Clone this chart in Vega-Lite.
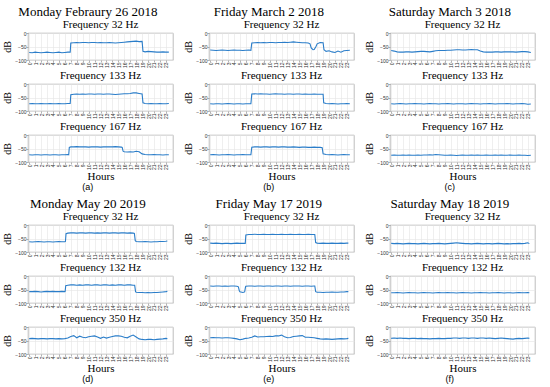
{
"$schema": "https://vega.github.io/schema/vega-lite/v6.json",
"background": "white",
"padding": {"left": 2, "top": 5, "right": 2, "bottom": 0},
"config": {
  "font": "Liberation Serif, Times New Roman, serif",
  "view": {"stroke": "#a0a0a0", "strokeWidth": 0.7},
  "axis": {"labelFont": "Liberation Sans, Arial, sans-serif", "labelFontSize": 5, "labelColor": "#333", "tickColor": "#666", "tickSize": 2, "tickWidth": 0.5, "domain": false, "gridColor": "#e4e4e4", "gridWidth": 0.6, "titleFont": "Liberation Serif, Times New Roman, serif", "titleFontWeight": "normal", "titleColor": "black", "labelPadding": 0},
  "axisY": {"titleFontSize": 10, "titlePadding": 2},
  "axisX": {"labelAngle": -90, "titleFontSize": 11, "titlePadding": 1},
  "title": {"font": "Liberation Serif, Times New Roman, serif", "fontWeight": "normal", "fontSize": 11, "offset": 1, "color": "black", "anchor": "middle"},
  "line": {"color": "#2a7dc9", "strokeWidth": 1.1}
},
"data": {"values": [
{"p":"a1","h":0,"v":-72},{"p":"a1","h":0.5,"v":-73},{"p":"a1","h":1,"v":-71},{"p":"a1","h":1.5,"v":-72},{"p":"a1","h":2,"v":-73},{"p":"a1","h":2.5,"v":-72},{"p":"a1","h":3,"v":-71},{"p":"a1","h":3.5,"v":-72},{"p":"a1","h":4,"v":-73},{"p":"a1","h":4.5,"v":-72},{"p":"a1","h":5,"v":-71},{"p":"a1","h":5.5,"v":-73},{"p":"a1","h":6,"v":-72},{"p":"a1","h":6.5,"v":-71},{"p":"a1","h":6.9,"v":-71},{"p":"a1","h":7,"v":-37},{"p":"a1","h":7.5,"v":-36},{"p":"a1","h":8,"v":-35},{"p":"a1","h":8.5,"v":-36},{"p":"a1","h":9,"v":-35},{"p":"a1","h":9.5,"v":-35},{"p":"a1","h":10,"v":-36},{"p":"a1","h":10.5,"v":-35},{"p":"a1","h":11,"v":-35},{"p":"a1","h":11.5,"v":-36},{"p":"a1","h":12,"v":-35},{"p":"a1","h":12.5,"v":-36},{"p":"a1","h":13,"v":-36},{"p":"a1","h":13.5,"v":-35},{"p":"a1","h":14,"v":-36},{"p":"a1","h":14.5,"v":-37},{"p":"a1","h":15,"v":-36},{"p":"a1","h":15.5,"v":-35},{"p":"a1","h":16,"v":-34},{"p":"a1","h":16.5,"v":-33},{"p":"a1","h":17,"v":-32},{"p":"a1","h":17.5,"v":-31},{"p":"a1","h":18,"v":-30},{"p":"a1","h":18.5,"v":-32},{"p":"a1","h":19,"v":-31},{"p":"a1","h":19.15,"v":-68},{"p":"a1","h":19.5,"v":-70},{"p":"a1","h":20,"v":-68},{"p":"a1","h":20.5,"v":-69},{"p":"a1","h":21,"v":-70},{"p":"a1","h":21.5,"v":-71},{"p":"a1","h":22,"v":-71},{"p":"a1","h":22.5,"v":-70},{"p":"a1","h":23,"v":-71},{"p":"a1","h":23.5,"v":-71},
{"p":"a2","h":0,"v":-73},{"p":"a2","h":0.5,"v":-72},{"p":"a2","h":1,"v":-73},{"p":"a2","h":1.5,"v":-73},{"p":"a2","h":2,"v":-72},{"p":"a2","h":2.5,"v":-73},{"p":"a2","h":3,"v":-73},{"p":"a2","h":3.5,"v":-72},{"p":"a2","h":4,"v":-73},{"p":"a2","h":4.5,"v":-73},{"p":"a2","h":5,"v":-72},{"p":"a2","h":5.5,"v":-73},{"p":"a2","h":6,"v":-73},{"p":"a2","h":6.5,"v":-72},{"p":"a2","h":6.9,"v":-72},{"p":"a2","h":7,"v":-40},{"p":"a2","h":7.5,"v":-38},{"p":"a2","h":8,"v":-37},{"p":"a2","h":8.5,"v":-38},{"p":"a2","h":9,"v":-37},{"p":"a2","h":9.5,"v":-38},{"p":"a2","h":10,"v":-37},{"p":"a2","h":10.5,"v":-37},{"p":"a2","h":11,"v":-38},{"p":"a2","h":11.5,"v":-37},{"p":"a2","h":12,"v":-37},{"p":"a2","h":12.5,"v":-38},{"p":"a2","h":13,"v":-37},{"p":"a2","h":13.5,"v":-37},{"p":"a2","h":14,"v":-38},{"p":"a2","h":14.5,"v":-39},{"p":"a2","h":15,"v":-38},{"p":"a2","h":15.5,"v":-37},{"p":"a2","h":16,"v":-36},{"p":"a2","h":16.5,"v":-36},{"p":"a2","h":17,"v":-35},{"p":"a2","h":17.5,"v":-33},{"p":"a2","h":18,"v":-33},{"p":"a2","h":18.5,"v":-35},{"p":"a2","h":19,"v":-37},{"p":"a2","h":19.15,"v":-70},{"p":"a2","h":19.5,"v":-72},{"p":"a2","h":20,"v":-73},{"p":"a2","h":20.5,"v":-72},{"p":"a2","h":21,"v":-73},{"p":"a2","h":21.5,"v":-73},{"p":"a2","h":22,"v":-72},{"p":"a2","h":22.5,"v":-73},{"p":"a2","h":23,"v":-73},{"p":"a2","h":23.5,"v":-72},
{"p":"a3","h":0,"v":-73},{"p":"a3","h":0.5,"v":-74},{"p":"a3","h":1,"v":-73},{"p":"a3","h":1.5,"v":-73},{"p":"a3","h":2,"v":-74},{"p":"a3","h":2.5,"v":-73},{"p":"a3","h":3,"v":-73},{"p":"a3","h":3.5,"v":-74},{"p":"a3","h":4,"v":-73},{"p":"a3","h":4.5,"v":-73},{"p":"a3","h":5,"v":-74},{"p":"a3","h":5.5,"v":-73},{"p":"a3","h":6,"v":-73},{"p":"a3","h":6.5,"v":-72},{"p":"a3","h":6.65,"v":-73},{"p":"a3","h":6.75,"v":-46},{"p":"a3","h":7,"v":-44},{"p":"a3","h":7.5,"v":-44},{"p":"a3","h":8,"v":-43},{"p":"a3","h":8.5,"v":-44},{"p":"a3","h":9,"v":-44},{"p":"a3","h":9.5,"v":-44},{"p":"a3","h":10,"v":-45},{"p":"a3","h":10.5,"v":-44},{"p":"a3","h":11,"v":-44},{"p":"a3","h":11.5,"v":-44},{"p":"a3","h":12,"v":-45},{"p":"a3","h":12.5,"v":-44},{"p":"a3","h":13,"v":-44},{"p":"a3","h":13.5,"v":-44},{"p":"a3","h":14,"v":-44},{"p":"a3","h":14.5,"v":-43},{"p":"a3","h":15,"v":-44},{"p":"a3","h":15.5,"v":-45},{"p":"a3","h":15.65,"v":-46},{"p":"a3","h":15.8,"v":-60},{"p":"a3","h":16,"v":-62},{"p":"a3","h":16.5,"v":-63},{"p":"a3","h":17,"v":-62},{"p":"a3","h":17.5,"v":-63},{"p":"a3","h":18,"v":-60},{"p":"a3","h":18.5,"v":-62},{"p":"a3","h":19,"v":-70},{"p":"a3","h":19.5,"v":-72},{"p":"a3","h":20,"v":-73},{"p":"a3","h":20.5,"v":-73},{"p":"a3","h":21,"v":-72},{"p":"a3","h":21.5,"v":-73},{"p":"a3","h":22,"v":-73},{"p":"a3","h":22.5,"v":-74},{"p":"a3","h":23,"v":-73},{"p":"a3","h":23.5,"v":-73},
{"p":"b1","h":0,"v":-63},{"p":"b1","h":0.5,"v":-64},{"p":"b1","h":1,"v":-65},{"p":"b1","h":1.5,"v":-64},{"p":"b1","h":2,"v":-63},{"p":"b1","h":2.5,"v":-64},{"p":"b1","h":3,"v":-65},{"p":"b1","h":3.5,"v":-64},{"p":"b1","h":4,"v":-63},{"p":"b1","h":4.5,"v":-64},{"p":"b1","h":5,"v":-64},{"p":"b1","h":5.5,"v":-65},{"p":"b1","h":6,"v":-64},{"p":"b1","h":6.5,"v":-63},{"p":"b1","h":6.85,"v":-64},{"p":"b1","h":7,"v":-37},{"p":"b1","h":7.5,"v":-36},{"p":"b1","h":8,"v":-35},{"p":"b1","h":8.5,"v":-36},{"p":"b1","h":9,"v":-35},{"p":"b1","h":9.5,"v":-36},{"p":"b1","h":10,"v":-35},{"p":"b1","h":10.5,"v":-35},{"p":"b1","h":11,"v":-36},{"p":"b1","h":11.5,"v":-35},{"p":"b1","h":12,"v":-35},{"p":"b1","h":12.5,"v":-34},{"p":"b1","h":13,"v":-35},{"p":"b1","h":13.5,"v":-34},{"p":"b1","h":14,"v":-33},{"p":"b1","h":14.5,"v":-34},{"p":"b1","h":15,"v":-35},{"p":"b1","h":15.5,"v":-36},{"p":"b1","h":16,"v":-36},{"p":"b1","h":16.5,"v":-37},{"p":"b1","h":16.8,"v":-40},{"p":"b1","h":17,"v":-55},{"p":"b1","h":17.3,"v":-62},{"p":"b1","h":17.5,"v":-61},{"p":"b1","h":17.8,"v":-50},{"p":"b1","h":18,"v":-40},{"p":"b1","h":18.5,"v":-35},{"p":"b1","h":19,"v":-36},{"p":"b1","h":19.15,"v":-62},{"p":"b1","h":19.5,"v":-68},{"p":"b1","h":20,"v":-66},{"p":"b1","h":20.5,"v":-70},{"p":"b1","h":21,"v":-72},{"p":"b1","h":21.5,"v":-67},{"p":"b1","h":22,"v":-71},{"p":"b1","h":22.5,"v":-66},{"p":"b1","h":23,"v":-65},{"p":"b1","h":23.5,"v":-64},
{"p":"b2","h":0,"v":-73},{"p":"b2","h":0.5,"v":-74},{"p":"b2","h":1,"v":-73},{"p":"b2","h":1.5,"v":-73},{"p":"b2","h":2,"v":-74},{"p":"b2","h":2.5,"v":-73},{"p":"b2","h":3,"v":-72},{"p":"b2","h":3.5,"v":-73},{"p":"b2","h":4,"v":-74},{"p":"b2","h":4.5,"v":-73},{"p":"b2","h":5,"v":-73},{"p":"b2","h":5.5,"v":-74},{"p":"b2","h":6,"v":-73},{"p":"b2","h":6.5,"v":-73},{"p":"b2","h":6.85,"v":-73},{"p":"b2","h":7,"v":-37},{"p":"b2","h":7.5,"v":-36},{"p":"b2","h":8,"v":-37},{"p":"b2","h":8.5,"v":-36},{"p":"b2","h":9,"v":-37},{"p":"b2","h":9.5,"v":-37},{"p":"b2","h":10,"v":-38},{"p":"b2","h":10.5,"v":-37},{"p":"b2","h":11,"v":-36},{"p":"b2","h":11.5,"v":-37},{"p":"b2","h":12,"v":-37},{"p":"b2","h":12.5,"v":-38},{"p":"b2","h":13,"v":-37},{"p":"b2","h":13.5,"v":-37},{"p":"b2","h":14,"v":-38},{"p":"b2","h":14.5,"v":-37},{"p":"b2","h":15,"v":-37},{"p":"b2","h":15.5,"v":-38},{"p":"b2","h":16,"v":-37},{"p":"b2","h":16.5,"v":-38},{"p":"b2","h":17,"v":-38},{"p":"b2","h":17.5,"v":-37},{"p":"b2","h":18,"v":-38},{"p":"b2","h":18.5,"v":-38},{"p":"b2","h":19,"v":-38},{"p":"b2","h":19.1,"v":-70},{"p":"b2","h":19.5,"v":-72},{"p":"b2","h":20,"v":-73},{"p":"b2","h":20.5,"v":-72},{"p":"b2","h":21,"v":-73},{"p":"b2","h":21.5,"v":-74},{"p":"b2","h":22,"v":-73},{"p":"b2","h":22.5,"v":-73},{"p":"b2","h":23,"v":-72},{"p":"b2","h":23.5,"v":-73},
{"p":"b3","h":0,"v":-73},{"p":"b3","h":0.5,"v":-72},{"p":"b3","h":1,"v":-73},{"p":"b3","h":1.5,"v":-74},{"p":"b3","h":2,"v":-73},{"p":"b3","h":2.5,"v":-73},{"p":"b3","h":3,"v":-72},{"p":"b3","h":3.5,"v":-73},{"p":"b3","h":4,"v":-74},{"p":"b3","h":4.5,"v":-73},{"p":"b3","h":5,"v":-73},{"p":"b3","h":5.5,"v":-72},{"p":"b3","h":6,"v":-73},{"p":"b3","h":6.5,"v":-73},{"p":"b3","h":6.85,"v":-73},{"p":"b3","h":7,"v":-45},{"p":"b3","h":7.5,"v":-44},{"p":"b3","h":8,"v":-44},{"p":"b3","h":8.5,"v":-45},{"p":"b3","h":9,"v":-44},{"p":"b3","h":9.5,"v":-44},{"p":"b3","h":10,"v":-45},{"p":"b3","h":10.5,"v":-44},{"p":"b3","h":11,"v":-44},{"p":"b3","h":11.5,"v":-45},{"p":"b3","h":12,"v":-44},{"p":"b3","h":12.5,"v":-44},{"p":"b3","h":13,"v":-45},{"p":"b3","h":13.5,"v":-45},{"p":"b3","h":14,"v":-44},{"p":"b3","h":14.5,"v":-45},{"p":"b3","h":15,"v":-46},{"p":"b3","h":15.5,"v":-45},{"p":"b3","h":16,"v":-45},{"p":"b3","h":16.5,"v":-46},{"p":"b3","h":17,"v":-46},{"p":"b3","h":17.5,"v":-45},{"p":"b3","h":18,"v":-46},{"p":"b3","h":18.5,"v":-46},{"p":"b3","h":18.85,"v":-47},{"p":"b3","h":19,"v":-70},{"p":"b3","h":19.5,"v":-72},{"p":"b3","h":20,"v":-73},{"p":"b3","h":20.5,"v":-72},{"p":"b3","h":21,"v":-73},{"p":"b3","h":21.5,"v":-74},{"p":"b3","h":22,"v":-73},{"p":"b3","h":22.5,"v":-72},{"p":"b3","h":23,"v":-73},{"p":"b3","h":23.5,"v":-73},
{"p":"c1","h":0,"v":-65},{"p":"c1","h":0.5,"v":-67},{"p":"c1","h":1,"v":-70},{"p":"c1","h":1.5,"v":-71},{"p":"c1","h":2,"v":-71},{"p":"c1","h":2.5,"v":-70},{"p":"c1","h":3,"v":-70},{"p":"c1","h":3.5,"v":-71},{"p":"c1","h":4,"v":-70},{"p":"c1","h":4.5,"v":-69},{"p":"c1","h":5,"v":-68},{"p":"c1","h":5.5,"v":-68},{"p":"c1","h":6,"v":-69},{"p":"c1","h":6.5,"v":-70},{"p":"c1","h":7,"v":-68},{"p":"c1","h":7.5,"v":-66},{"p":"c1","h":8,"v":-65},{"p":"c1","h":8.5,"v":-65},{"p":"c1","h":9,"v":-65},{"p":"c1","h":9.5,"v":-64},{"p":"c1","h":10,"v":-64},{"p":"c1","h":10.5,"v":-63},{"p":"c1","h":11,"v":-62},{"p":"c1","h":11.5,"v":-62},{"p":"c1","h":12,"v":-63},{"p":"c1","h":12.5,"v":-63},{"p":"c1","h":13,"v":-62},{"p":"c1","h":13.5,"v":-61},{"p":"c1","h":14,"v":-62},{"p":"c1","h":14.5,"v":-62},{"p":"c1","h":15,"v":-67},{"p":"c1","h":15.5,"v":-70},{"p":"c1","h":16,"v":-71},{"p":"c1","h":16.5,"v":-71},{"p":"c1","h":17,"v":-71},{"p":"c1","h":17.5,"v":-70},{"p":"c1","h":18,"v":-70},{"p":"c1","h":18.5,"v":-71},{"p":"c1","h":19,"v":-70},{"p":"c1","h":19.5,"v":-70},{"p":"c1","h":20,"v":-70},{"p":"c1","h":20.5,"v":-70},{"p":"c1","h":21,"v":-71},{"p":"c1","h":21.5,"v":-70},{"p":"c1","h":22,"v":-69},{"p":"c1","h":22.5,"v":-69},{"p":"c1","h":23,"v":-70},{"p":"c1","h":23.5,"v":-72},
{"p":"c2","h":0,"v":-73},{"p":"c2","h":0.5,"v":-74},{"p":"c2","h":1,"v":-73},{"p":"c2","h":1.5,"v":-72},{"p":"c2","h":2,"v":-73},{"p":"c2","h":2.5,"v":-74},{"p":"c2","h":3,"v":-73},{"p":"c2","h":3.5,"v":-73},{"p":"c2","h":4,"v":-72},{"p":"c2","h":4.5,"v":-73},{"p":"c2","h":5,"v":-73},{"p":"c2","h":5.5,"v":-74},{"p":"c2","h":6,"v":-73},{"p":"c2","h":6.5,"v":-72},{"p":"c2","h":7,"v":-73},{"p":"c2","h":7.5,"v":-73},{"p":"c2","h":8,"v":-74},{"p":"c2","h":8.5,"v":-73},{"p":"c2","h":9,"v":-73},{"p":"c2","h":9.5,"v":-72},{"p":"c2","h":10,"v":-73},{"p":"c2","h":10.5,"v":-74},{"p":"c2","h":11,"v":-73},{"p":"c2","h":11.5,"v":-73},{"p":"c2","h":12,"v":-73},{"p":"c2","h":12.5,"v":-74},{"p":"c2","h":13,"v":-73},{"p":"c2","h":13.5,"v":-72},{"p":"c2","h":14,"v":-73},{"p":"c2","h":14.5,"v":-73},{"p":"c2","h":15,"v":-74},{"p":"c2","h":15.5,"v":-73},{"p":"c2","h":16,"v":-73},{"p":"c2","h":16.5,"v":-72},{"p":"c2","h":17,"v":-73},{"p":"c2","h":17.5,"v":-74},{"p":"c2","h":18,"v":-73},{"p":"c2","h":18.5,"v":-73},{"p":"c2","h":19,"v":-73},{"p":"c2","h":19.5,"v":-72},{"p":"c2","h":20,"v":-73},{"p":"c2","h":20.5,"v":-74},{"p":"c2","h":21,"v":-73},{"p":"c2","h":21.5,"v":-73},{"p":"c2","h":22,"v":-72},{"p":"c2","h":22.5,"v":-73},{"p":"c2","h":23,"v":-75},{"p":"c2","h":23.5,"v":-74},
{"p":"c3","h":0,"v":-75},{"p":"c3","h":0.5,"v":-74},{"p":"c3","h":1,"v":-75},{"p":"c3","h":1.5,"v":-75},{"p":"c3","h":2,"v":-74},{"p":"c3","h":2.5,"v":-75},{"p":"c3","h":3,"v":-74},{"p":"c3","h":3.5,"v":-75},{"p":"c3","h":4,"v":-75},{"p":"c3","h":4.5,"v":-74},{"p":"c3","h":5,"v":-75},{"p":"c3","h":5.5,"v":-74},{"p":"c3","h":6,"v":-74},{"p":"c3","h":6.5,"v":-73},{"p":"c3","h":7,"v":-74},{"p":"c3","h":7.5,"v":-72},{"p":"c3","h":8,"v":-73},{"p":"c3","h":8.5,"v":-74},{"p":"c3","h":9,"v":-75},{"p":"c3","h":9.5,"v":-75},{"p":"c3","h":10,"v":-74},{"p":"c3","h":10.5,"v":-75},{"p":"c3","h":11,"v":-76},{"p":"c3","h":11.5,"v":-75},{"p":"c3","h":12,"v":-74},{"p":"c3","h":12.5,"v":-75},{"p":"c3","h":13,"v":-75},{"p":"c3","h":13.5,"v":-74},{"p":"c3","h":14,"v":-75},{"p":"c3","h":14.5,"v":-74},{"p":"c3","h":15,"v":-75},{"p":"c3","h":15.5,"v":-75},{"p":"c3","h":16,"v":-74},{"p":"c3","h":16.5,"v":-75},{"p":"c3","h":17,"v":-75},{"p":"c3","h":17.5,"v":-74},{"p":"c3","h":18,"v":-75},{"p":"c3","h":18.5,"v":-74},{"p":"c3","h":19,"v":-75},{"p":"c3","h":19.5,"v":-75},{"p":"c3","h":20,"v":-74},{"p":"c3","h":20.5,"v":-75},{"p":"c3","h":21,"v":-75},{"p":"c3","h":21.5,"v":-74},{"p":"c3","h":22,"v":-75},{"p":"c3","h":22.5,"v":-75},{"p":"c3","h":23,"v":-76},{"p":"c3","h":23.5,"v":-75},
{"p":"d1","h":0,"v":-62},{"p":"d1","h":0.5,"v":-63},{"p":"d1","h":1,"v":-62},{"p":"d1","h":1.5,"v":-61},{"p":"d1","h":2,"v":-62},{"p":"d1","h":2.5,"v":-63},{"p":"d1","h":3,"v":-62},{"p":"d1","h":3.5,"v":-62},{"p":"d1","h":4,"v":-63},{"p":"d1","h":4.5,"v":-62},{"p":"d1","h":5,"v":-61},{"p":"d1","h":5.5,"v":-62},{"p":"d1","h":6,"v":-62},{"p":"d1","h":6.1,"v":-61},{"p":"d1","h":6.2,"v":-32},{"p":"d1","h":6.5,"v":-30},{"p":"d1","h":7,"v":-29},{"p":"d1","h":7.5,"v":-29},{"p":"d1","h":8,"v":-30},{"p":"d1","h":8.5,"v":-29},{"p":"d1","h":9,"v":-29},{"p":"d1","h":9.5,"v":-30},{"p":"d1","h":10,"v":-29},{"p":"d1","h":10.5,"v":-29},{"p":"d1","h":11,"v":-30},{"p":"d1","h":11.5,"v":-29},{"p":"d1","h":12,"v":-30},{"p":"d1","h":12.5,"v":-29},{"p":"d1","h":13,"v":-29},{"p":"d1","h":13.5,"v":-30},{"p":"d1","h":14,"v":-29},{"p":"d1","h":14.5,"v":-29},{"p":"d1","h":15,"v":-30},{"p":"d1","h":15.5,"v":-29},{"p":"d1","h":16,"v":-29},{"p":"d1","h":16.5,"v":-30},{"p":"d1","h":17,"v":-29},{"p":"d1","h":17.5,"v":-30},{"p":"d1","h":17.7,"v":-31},{"p":"d1","h":17.85,"v":-58},{"p":"d1","h":18,"v":-61},{"p":"d1","h":18.5,"v":-62},{"p":"d1","h":19,"v":-62},{"p":"d1","h":19.5,"v":-61},{"p":"d1","h":20,"v":-62},{"p":"d1","h":20.5,"v":-63},{"p":"d1","h":21,"v":-62},{"p":"d1","h":21.5,"v":-62},{"p":"d1","h":22,"v":-61},{"p":"d1","h":22.5,"v":-61},{"p":"d1","h":23,"v":-60},{"p":"d1","h":23.25,"v":-59},
{"p":"d2","h":0,"v":-58},{"p":"d2","h":0.5,"v":-58},{"p":"d2","h":1,"v":-57},{"p":"d2","h":1.5,"v":-58},{"p":"d2","h":2,"v":-59},{"p":"d2","h":2.5,"v":-58},{"p":"d2","h":3,"v":-57},{"p":"d2","h":3.5,"v":-58},{"p":"d2","h":4,"v":-57},{"p":"d2","h":4.5,"v":-58},{"p":"d2","h":5,"v":-58},{"p":"d2","h":5.5,"v":-57},{"p":"d2","h":6,"v":-58},{"p":"d2","h":6.05,"v":-57},{"p":"d2","h":6.15,"v":-36},{"p":"d2","h":6.5,"v":-34},{"p":"d2","h":7,"v":-33},{"p":"d2","h":7.5,"v":-33},{"p":"d2","h":8,"v":-34},{"p":"d2","h":8.5,"v":-33},{"p":"d2","h":9,"v":-34},{"p":"d2","h":9.5,"v":-33},{"p":"d2","h":10,"v":-33},{"p":"d2","h":10.5,"v":-34},{"p":"d2","h":11,"v":-33},{"p":"d2","h":11.5,"v":-33},{"p":"d2","h":12,"v":-34},{"p":"d2","h":12.5,"v":-33},{"p":"d2","h":13,"v":-33},{"p":"d2","h":13.5,"v":-34},{"p":"d2","h":14,"v":-33},{"p":"d2","h":14.5,"v":-34},{"p":"d2","h":15,"v":-33},{"p":"d2","h":15.5,"v":-33},{"p":"d2","h":16,"v":-34},{"p":"d2","h":16.5,"v":-33},{"p":"d2","h":17,"v":-33},{"p":"d2","h":17.5,"v":-34},{"p":"d2","h":17.75,"v":-34},{"p":"d2","h":17.9,"v":-58},{"p":"d2","h":18,"v":-60},{"p":"d2","h":18.5,"v":-61},{"p":"d2","h":19,"v":-61},{"p":"d2","h":19.5,"v":-62},{"p":"d2","h":20,"v":-61},{"p":"d2","h":20.5,"v":-62},{"p":"d2","h":21,"v":-61},{"p":"d2","h":21.5,"v":-61},{"p":"d2","h":22,"v":-60},{"p":"d2","h":22.5,"v":-59},{"p":"d2","h":23,"v":-58},{"p":"d2","h":23.25,"v":-57},
{"p":"d3","h":0,"v":-43},{"p":"d3","h":0.5,"v":-42},{"p":"d3","h":1,"v":-43},{"p":"d3","h":1.5,"v":-44},{"p":"d3","h":2,"v":-43},{"p":"d3","h":2.5,"v":-43},{"p":"d3","h":3,"v":-44},{"p":"d3","h":3.5,"v":-43},{"p":"d3","h":4,"v":-43},{"p":"d3","h":4.5,"v":-44},{"p":"d3","h":5,"v":-43},{"p":"d3","h":5.5,"v":-44},{"p":"d3","h":6,"v":-43},{"p":"d3","h":6.5,"v":-41},{"p":"d3","h":7,"v":-35},{"p":"d3","h":7.5,"v":-32},{"p":"d3","h":8,"v":-40},{"p":"d3","h":8.5,"v":-34},{"p":"d3","h":9,"v":-38},{"p":"d3","h":9.5,"v":-40},{"p":"d3","h":10,"v":-36},{"p":"d3","h":10.5,"v":-34},{"p":"d3","h":11,"v":-33},{"p":"d3","h":11.5,"v":-37},{"p":"d3","h":12,"v":-42},{"p":"d3","h":12.5,"v":-37},{"p":"d3","h":13,"v":-41},{"p":"d3","h":13.5,"v":-38},{"p":"d3","h":14,"v":-35},{"p":"d3","h":14.5,"v":-33},{"p":"d3","h":15,"v":-33},{"p":"d3","h":15.5,"v":-34},{"p":"d3","h":16,"v":-38},{"p":"d3","h":16.5,"v":-40},{"p":"d3","h":17,"v":-34},{"p":"d3","h":17.5,"v":-30},{"p":"d3","h":18,"v":-37},{"p":"d3","h":18.5,"v":-44},{"p":"d3","h":19,"v":-46},{"p":"d3","h":19.5,"v":-47},{"p":"d3","h":20,"v":-46},{"p":"d3","h":20.5,"v":-46},{"p":"d3","h":21,"v":-47},{"p":"d3","h":21.5,"v":-46},{"p":"d3","h":22,"v":-45},{"p":"d3","h":22.5,"v":-44},{"p":"d3","h":23,"v":-42},{"p":"d3","h":23.25,"v":-43},
{"p":"e1","h":0,"v":-67},{"p":"e1","h":0.5,"v":-68},{"p":"e1","h":1,"v":-67},{"p":"e1","h":1.5,"v":-68},{"p":"e1","h":2,"v":-69},{"p":"e1","h":2.5,"v":-68},{"p":"e1","h":3,"v":-68},{"p":"e1","h":3.5,"v":-69},{"p":"e1","h":4,"v":-68},{"p":"e1","h":4.5,"v":-67},{"p":"e1","h":5,"v":-68},{"p":"e1","h":5.5,"v":-68},{"p":"e1","h":5.9,"v":-68},{"p":"e1","h":6,"v":-37},{"p":"e1","h":6.5,"v":-35},{"p":"e1","h":7,"v":-35},{"p":"e1","h":7.5,"v":-34},{"p":"e1","h":8,"v":-35},{"p":"e1","h":8.5,"v":-35},{"p":"e1","h":9,"v":-34},{"p":"e1","h":9.5,"v":-35},{"p":"e1","h":10,"v":-35},{"p":"e1","h":10.5,"v":-34},{"p":"e1","h":11,"v":-35},{"p":"e1","h":11.5,"v":-35},{"p":"e1","h":12,"v":-34},{"p":"e1","h":12.5,"v":-35},{"p":"e1","h":13,"v":-35},{"p":"e1","h":13.5,"v":-34},{"p":"e1","h":14,"v":-35},{"p":"e1","h":14.5,"v":-35},{"p":"e1","h":15,"v":-34},{"p":"e1","h":15.5,"v":-35},{"p":"e1","h":16,"v":-35},{"p":"e1","h":16.5,"v":-34},{"p":"e1","h":17,"v":-35},{"p":"e1","h":17.5,"v":-35},{"p":"e1","h":17.6,"v":-35},{"p":"e1","h":17.75,"v":-65},{"p":"e1","h":18,"v":-67},{"p":"e1","h":18.5,"v":-68},{"p":"e1","h":19,"v":-67},{"p":"e1","h":19.5,"v":-68},{"p":"e1","h":20,"v":-68},{"p":"e1","h":20.5,"v":-67},{"p":"e1","h":21,"v":-68},{"p":"e1","h":21.5,"v":-68},{"p":"e1","h":22,"v":-67},{"p":"e1","h":22.5,"v":-68},{"p":"e1","h":23,"v":-67},{"p":"e1","h":23.25,"v":-67},
{"p":"e2","h":0,"v":-37},{"p":"e2","h":0.5,"v":-38},{"p":"e2","h":1,"v":-37},{"p":"e2","h":1.5,"v":-37},{"p":"e2","h":2,"v":-38},{"p":"e2","h":2.5,"v":-37},{"p":"e2","h":3,"v":-38},{"p":"e2","h":3.5,"v":-37},{"p":"e2","h":4,"v":-37},{"p":"e2","h":4.5,"v":-38},{"p":"e2","h":4.75,"v":-40},{"p":"e2","h":4.9,"v":-55},{"p":"e2","h":5,"v":-58},{"p":"e2","h":5.5,"v":-61},{"p":"e2","h":5.8,"v":-59},{"p":"e2","h":5.95,"v":-40},{"p":"e2","h":6,"v":-38},{"p":"e2","h":6.5,"v":-37},{"p":"e2","h":7,"v":-37},{"p":"e2","h":7.5,"v":-38},{"p":"e2","h":8,"v":-37},{"p":"e2","h":8.5,"v":-37},{"p":"e2","h":9,"v":-38},{"p":"e2","h":9.5,"v":-37},{"p":"e2","h":10,"v":-37},{"p":"e2","h":10.5,"v":-38},{"p":"e2","h":11,"v":-37},{"p":"e2","h":11.5,"v":-37},{"p":"e2","h":12,"v":-38},{"p":"e2","h":12.5,"v":-37},{"p":"e2","h":13,"v":-37},{"p":"e2","h":13.5,"v":-38},{"p":"e2","h":14,"v":-37},{"p":"e2","h":14.5,"v":-37},{"p":"e2","h":15,"v":-37},{"p":"e2","h":15.5,"v":-38},{"p":"e2","h":16,"v":-37},{"p":"e2","h":16.5,"v":-37},{"p":"e2","h":17,"v":-38},{"p":"e2","h":17.5,"v":-37},{"p":"e2","h":17.6,"v":-37},{"p":"e2","h":17.75,"v":-58},{"p":"e2","h":18,"v":-60},{"p":"e2","h":18.5,"v":-60},{"p":"e2","h":19,"v":-61},{"p":"e2","h":19.5,"v":-60},{"p":"e2","h":20,"v":-60},{"p":"e2","h":20.5,"v":-59},{"p":"e2","h":21,"v":-60},{"p":"e2","h":21.5,"v":-60},{"p":"e2","h":22,"v":-59},{"p":"e2","h":22.5,"v":-59},{"p":"e2","h":23,"v":-58},{"p":"e2","h":23.25,"v":-58},
{"p":"e3","h":0,"v":-40},{"p":"e3","h":0.5,"v":-39},{"p":"e3","h":1,"v":-40},{"p":"e3","h":1.5,"v":-40},{"p":"e3","h":2,"v":-41},{"p":"e3","h":2.5,"v":-40},{"p":"e3","h":3,"v":-40},{"p":"e3","h":3.5,"v":-41},{"p":"e3","h":4,"v":-42},{"p":"e3","h":4.5,"v":-44},{"p":"e3","h":5,"v":-47},{"p":"e3","h":5.5,"v":-45},{"p":"e3","h":6,"v":-42},{"p":"e3","h":6.5,"v":-41},{"p":"e3","h":7,"v":-38},{"p":"e3","h":7.5,"v":-33},{"p":"e3","h":8,"v":-37},{"p":"e3","h":8.5,"v":-36},{"p":"e3","h":9,"v":-36},{"p":"e3","h":9.5,"v":-35},{"p":"e3","h":10,"v":-34},{"p":"e3","h":10.5,"v":-35},{"p":"e3","h":11,"v":-33},{"p":"e3","h":11.5,"v":-33},{"p":"e3","h":12,"v":-30},{"p":"e3","h":12.5,"v":-36},{"p":"e3","h":13,"v":-40},{"p":"e3","h":13.5,"v":-39},{"p":"e3","h":14,"v":-35},{"p":"e3","h":14.5,"v":-34},{"p":"e3","h":15,"v":-33},{"p":"e3","h":15.5,"v":-32},{"p":"e3","h":16,"v":-38},{"p":"e3","h":16.5,"v":-38},{"p":"e3","h":17,"v":-39},{"p":"e3","h":17.5,"v":-40},{"p":"e3","h":18,"v":-42},{"p":"e3","h":18.5,"v":-44},{"p":"e3","h":19,"v":-45},{"p":"e3","h":19.5,"v":-44},{"p":"e3","h":20,"v":-45},{"p":"e3","h":20.5,"v":-46},{"p":"e3","h":21,"v":-45},{"p":"e3","h":21.5,"v":-44},{"p":"e3","h":22,"v":-43},{"p":"e3","h":22.5,"v":-44},{"p":"e3","h":23,"v":-43},{"p":"e3","h":23.25,"v":-42},
{"p":"f1","h":0,"v":-68},{"p":"f1","h":0.5,"v":-69},{"p":"f1","h":1,"v":-68},{"p":"f1","h":1.5,"v":-69},{"p":"f1","h":2,"v":-70},{"p":"f1","h":2.5,"v":-69},{"p":"f1","h":3,"v":-68},{"p":"f1","h":3.5,"v":-69},{"p":"f1","h":4,"v":-69},{"p":"f1","h":4.5,"v":-70},{"p":"f1","h":5,"v":-69},{"p":"f1","h":5.5,"v":-68},{"p":"f1","h":6,"v":-69},{"p":"f1","h":6.5,"v":-70},{"p":"f1","h":7,"v":-69},{"p":"f1","h":7.5,"v":-69},{"p":"f1","h":8,"v":-68},{"p":"f1","h":8.5,"v":-69},{"p":"f1","h":9,"v":-70},{"p":"f1","h":9.5,"v":-69},{"p":"f1","h":10,"v":-68},{"p":"f1","h":10.5,"v":-67},{"p":"f1","h":11,"v":-66},{"p":"f1","h":11.5,"v":-67},{"p":"f1","h":12,"v":-68},{"p":"f1","h":12.5,"v":-69},{"p":"f1","h":13,"v":-69},{"p":"f1","h":13.5,"v":-70},{"p":"f1","h":14,"v":-69},{"p":"f1","h":14.5,"v":-68},{"p":"f1","h":15,"v":-69},{"p":"f1","h":15.5,"v":-70},{"p":"f1","h":16,"v":-69},{"p":"f1","h":16.5,"v":-69},{"p":"f1","h":17,"v":-70},{"p":"f1","h":17.5,"v":-69},{"p":"f1","h":18,"v":-68},{"p":"f1","h":18.5,"v":-69},{"p":"f1","h":19,"v":-70},{"p":"f1","h":19.5,"v":-69},{"p":"f1","h":20,"v":-70},{"p":"f1","h":20.5,"v":-69},{"p":"f1","h":21,"v":-69},{"p":"f1","h":21.5,"v":-68},{"p":"f1","h":22,"v":-69},{"p":"f1","h":22.5,"v":-68},{"p":"f1","h":23,"v":-66},{"p":"f1","h":23.25,"v":-69},
{"p":"f2","h":0,"v":-62},{"p":"f2","h":0.5,"v":-62},{"p":"f2","h":1,"v":-61},{"p":"f2","h":1.5,"v":-62},{"p":"f2","h":2,"v":-63},{"p":"f2","h":2.5,"v":-62},{"p":"f2","h":3,"v":-61},{"p":"f2","h":3.5,"v":-62},{"p":"f2","h":4,"v":-62},{"p":"f2","h":4.5,"v":-63},{"p":"f2","h":5,"v":-62},{"p":"f2","h":5.5,"v":-61},{"p":"f2","h":6,"v":-62},{"p":"f2","h":6.5,"v":-62},{"p":"f2","h":7,"v":-63},{"p":"f2","h":7.5,"v":-62},{"p":"f2","h":8,"v":-61},{"p":"f2","h":8.5,"v":-62},{"p":"f2","h":9,"v":-62},{"p":"f2","h":9.5,"v":-61},{"p":"f2","h":10,"v":-62},{"p":"f2","h":10.5,"v":-62},{"p":"f2","h":11,"v":-63},{"p":"f2","h":11.5,"v":-62},{"p":"f2","h":12,"v":-61},{"p":"f2","h":12.5,"v":-62},{"p":"f2","h":13,"v":-62},{"p":"f2","h":13.5,"v":-63},{"p":"f2","h":14,"v":-62},{"p":"f2","h":14.5,"v":-62},{"p":"f2","h":15,"v":-61},{"p":"f2","h":15.5,"v":-62},{"p":"f2","h":16,"v":-62},{"p":"f2","h":16.5,"v":-63},{"p":"f2","h":17,"v":-62},{"p":"f2","h":17.5,"v":-62},{"p":"f2","h":18,"v":-61},{"p":"f2","h":18.5,"v":-62},{"p":"f2","h":19,"v":-63},{"p":"f2","h":19.5,"v":-62},{"p":"f2","h":20,"v":-62},{"p":"f2","h":20.5,"v":-63},{"p":"f2","h":21,"v":-62},{"p":"f2","h":21.5,"v":-61},{"p":"f2","h":22,"v":-62},{"p":"f2","h":22.5,"v":-62},{"p":"f2","h":23,"v":-61},{"p":"f2","h":23.25,"v":-62},
{"p":"f3","h":0,"v":-42},{"p":"f3","h":0.5,"v":-41},{"p":"f3","h":1,"v":-42},{"p":"f3","h":1.5,"v":-41},{"p":"f3","h":2,"v":-42},{"p":"f3","h":2.5,"v":-42},{"p":"f3","h":3,"v":-43},{"p":"f3","h":3.5,"v":-42},{"p":"f3","h":4,"v":-42},{"p":"f3","h":4.5,"v":-43},{"p":"f3","h":5,"v":-42},{"p":"f3","h":5.5,"v":-43},{"p":"f3","h":6,"v":-43},{"p":"f3","h":6.5,"v":-44},{"p":"f3","h":7,"v":-43},{"p":"f3","h":7.5,"v":-43},{"p":"f3","h":8,"v":-42},{"p":"f3","h":8.5,"v":-43},{"p":"f3","h":9,"v":-43},{"p":"f3","h":9.5,"v":-42},{"p":"f3","h":10,"v":-42},{"p":"f3","h":10.5,"v":-41},{"p":"f3","h":11,"v":-41},{"p":"f3","h":11.5,"v":-42},{"p":"f3","h":12,"v":-41},{"p":"f3","h":12.5,"v":-41},{"p":"f3","h":13,"v":-42},{"p":"f3","h":13.5,"v":-41},{"p":"f3","h":14,"v":-41},{"p":"f3","h":14.5,"v":-42},{"p":"f3","h":15,"v":-41},{"p":"f3","h":15.5,"v":-41},{"p":"f3","h":16,"v":-42},{"p":"f3","h":16.5,"v":-41},{"p":"f3","h":17,"v":-42},{"p":"f3","h":17.5,"v":-43},{"p":"f3","h":18,"v":-42},{"p":"f3","h":18.5,"v":-41},{"p":"f3","h":19,"v":-42},{"p":"f3","h":19.5,"v":-43},{"p":"f3","h":20,"v":-44},{"p":"f3","h":20.5,"v":-45},{"p":"f3","h":21,"v":-43},{"p":"f3","h":21.5,"v":-42},{"p":"f3","h":22,"v":-43},{"p":"f3","h":22.5,"v":-42},{"p":"f3","h":23,"v":-41},{"p":"f3","h":23.25,"v":-42}
]},
"spacing": 5,
"vconcat": [
{"spacing": 9, "hconcat": [
 {"title": {"text": "(a)", "orient": "bottom", "font": "Liberation Sans, Arial, sans-serif", "fontSize": 9, "offset": 1}, "vconcat": [
 {"title": {"text": "Monday Febraury 26 2018", "fontSize": 13, "offset": 0}, "spacing": 1, "vconcat": [
  {"width": 145, "height": 27, "title": "Frequency 32 Hz", "transform": [{"filter": "datum.p == 'a1'"}], "mark": "line",
   "encoding": {"x": {"field": "h", "type": "quantitative", "scale": {"domain": [-0.2, 24.2], "nice": false}, "axis": {"values": [0,1,2,3,4,5,6,7,8,9,10,11,12,13,14,15,16,17,18,19,20,21,22,23], "title": null}},
                "y": {"field": "v", "type": "quantitative", "scale": {"domain": [-100, 0]}, "axis": {"values": [0, -50, -100], "title": "dB"}}}},
  {"width": 145, "height": 27, "title": "Frequency 133 Hz", "transform": [{"filter": "datum.p == 'a2'"}], "mark": "line",
   "encoding": {"x": {"field": "h", "type": "quantitative", "scale": {"domain": [-0.2, 24.2], "nice": false}, "axis": {"values": [0,1,2,3,4,5,6,7,8,9,10,11,12,13,14,15,16,17,18,19,20,21,22,23], "title": null}},
                "y": {"field": "v", "type": "quantitative", "scale": {"domain": [-100, 0]}, "axis": {"values": [0, -50, -100], "title": "dB"}}}},
  {"width": 145, "height": 27, "title": "Frequency 167 Hz", "transform": [{"filter": "datum.p == 'a3'"}], "mark": "line",
   "encoding": {"x": {"field": "h", "type": "quantitative", "scale": {"domain": [-0.2, 24.2], "nice": false}, "axis": {"values": [0,1,2,3,4,5,6,7,8,9,10,11,12,13,14,15,16,17,18,19,20,21,22,23], "title": "Hours"}},
                "y": {"field": "v", "type": "quantitative", "scale": {"domain": [-100, 0]}, "axis": {"values": [0, -50, -100], "title": "dB"}}}}
 ]}]},
 {"title": {"text": "(b)", "orient": "bottom", "font": "Liberation Sans, Arial, sans-serif", "fontSize": 9, "offset": 1}, "vconcat": [
 {"title": {"text": "Friday March 2 2018", "fontSize": 13, "offset": 0}, "spacing": 1, "vconcat": [
  {"width": 145, "height": 27, "title": "Frequency 32 Hz", "transform": [{"filter": "datum.p == 'b1'"}], "mark": "line",
   "encoding": {"x": {"field": "h", "type": "quantitative", "scale": {"domain": [-0.2, 24.2], "nice": false}, "axis": {"values": [0,1,2,3,4,5,6,7,8,9,10,11,12,13,14,15,16,17,18,19,20,21,22,23], "title": null}},
                "y": {"field": "v", "type": "quantitative", "scale": {"domain": [-100, 0]}, "axis": {"values": [0, -50, -100], "title": "dB"}}}},
  {"width": 145, "height": 27, "title": "Frequency 133 Hz", "transform": [{"filter": "datum.p == 'b2'"}], "mark": "line",
   "encoding": {"x": {"field": "h", "type": "quantitative", "scale": {"domain": [-0.2, 24.2], "nice": false}, "axis": {"values": [0,1,2,3,4,5,6,7,8,9,10,11,12,13,14,15,16,17,18,19,20,21,22,23], "title": null}},
                "y": {"field": "v", "type": "quantitative", "scale": {"domain": [-100, 0]}, "axis": {"values": [0, -50, -100], "title": "dB"}}}},
  {"width": 145, "height": 27, "title": "Frequency 167 Hz", "transform": [{"filter": "datum.p == 'b3'"}], "mark": "line",
   "encoding": {"x": {"field": "h", "type": "quantitative", "scale": {"domain": [-0.2, 24.2], "nice": false}, "axis": {"values": [0,1,2,3,4,5,6,7,8,9,10,11,12,13,14,15,16,17,18,19,20,21,22,23], "title": "Hours"}},
                "y": {"field": "v", "type": "quantitative", "scale": {"domain": [-100, 0]}, "axis": {"values": [0, -50, -100], "title": "dB"}}}}
 ]}]},
 {"title": {"text": "(c)", "orient": "bottom", "font": "Liberation Sans, Arial, sans-serif", "fontSize": 9, "offset": 1}, "vconcat": [
 {"title": {"text": "Saturday March 3 2018", "fontSize": 13, "offset": 0}, "spacing": 1, "vconcat": [
  {"width": 145, "height": 27, "title": "Frequency 32 Hz", "transform": [{"filter": "datum.p == 'c1'"}], "mark": "line",
   "encoding": {"x": {"field": "h", "type": "quantitative", "scale": {"domain": [-0.2, 24.2], "nice": false}, "axis": {"values": [0,1,2,3,4,5,6,7,8,9,10,11,12,13,14,15,16,17,18,19,20,21,22,23], "title": null}},
                "y": {"field": "v", "type": "quantitative", "scale": {"domain": [-100, 0]}, "axis": {"values": [0, -50, -100], "title": "dB"}}}},
  {"width": 145, "height": 27, "title": "Frequency 133 Hz", "transform": [{"filter": "datum.p == 'c2'"}], "mark": "line",
   "encoding": {"x": {"field": "h", "type": "quantitative", "scale": {"domain": [-0.2, 24.2], "nice": false}, "axis": {"values": [0,1,2,3,4,5,6,7,8,9,10,11,12,13,14,15,16,17,18,19,20,21,22,23], "title": null}},
                "y": {"field": "v", "type": "quantitative", "scale": {"domain": [-100, 0]}, "axis": {"values": [0, -50, -100], "title": "dB"}}}},
  {"width": 145, "height": 27, "title": "Frequency 167 Hz", "transform": [{"filter": "datum.p == 'c3'"}], "mark": "line",
   "encoding": {"x": {"field": "h", "type": "quantitative", "scale": {"domain": [-0.2, 24.2], "nice": false}, "axis": {"values": [0,1,2,3,4,5,6,7,8,9,10,11,12,13,14,15,16,17,18,19,20,21,22,23], "title": "Hours"}},
                "y": {"field": "v", "type": "quantitative", "scale": {"domain": [-100, 0]}, "axis": {"values": [0, -50, -100], "title": "dB"}}}}
 ]}]}
]},
{"spacing": 9, "hconcat": [
 {"title": {"text": "(d)", "orient": "bottom", "font": "Liberation Sans, Arial, sans-serif", "fontSize": 9, "offset": 1}, "vconcat": [
 {"title": {"text": "Monday May 20 2019", "fontSize": 13, "offset": 0}, "spacing": 1, "vconcat": [
  {"width": 145, "height": 27, "title": "Frequency 32 Hz", "transform": [{"filter": "datum.p == 'd1'"}], "mark": "line",
   "encoding": {"x": {"field": "h", "type": "quantitative", "scale": {"domain": [-0.2, 24.2], "nice": false}, "axis": {"values": [0,1,2,3,4,5,6,7,8,9,10,11,12,13,14,15,16,17,18,19,20,21,22,23], "title": null}},
                "y": {"field": "v", "type": "quantitative", "scale": {"domain": [-100, 0]}, "axis": {"values": [0, -50, -100], "title": "dB"}}}},
  {"width": 145, "height": 27, "title": "Frequency 132 Hz", "transform": [{"filter": "datum.p == 'd2'"}], "mark": "line",
   "encoding": {"x": {"field": "h", "type": "quantitative", "scale": {"domain": [-0.2, 24.2], "nice": false}, "axis": {"values": [0,1,2,3,4,5,6,7,8,9,10,11,12,13,14,15,16,17,18,19,20,21,22,23], "title": null}},
                "y": {"field": "v", "type": "quantitative", "scale": {"domain": [-100, 0]}, "axis": {"values": [0, -50, -100], "title": "dB"}}}},
  {"width": 145, "height": 27, "title": "Frequency 350 Hz", "transform": [{"filter": "datum.p == 'd3'"}], "mark": "line",
   "encoding": {"x": {"field": "h", "type": "quantitative", "scale": {"domain": [-0.2, 24.2], "nice": false}, "axis": {"values": [0,1,2,3,4,5,6,7,8,9,10,11,12,13,14,15,16,17,18,19,20,21,22,23], "title": "Hours"}},
                "y": {"field": "v", "type": "quantitative", "scale": {"domain": [-100, 0]}, "axis": {"values": [0, -50, -100], "title": "dB"}}}}
 ]}]},
 {"title": {"text": "(e)", "orient": "bottom", "font": "Liberation Sans, Arial, sans-serif", "fontSize": 9, "offset": 1}, "vconcat": [
 {"title": {"text": "Friday May 17 2019", "fontSize": 13, "offset": 0}, "spacing": 1, "vconcat": [
  {"width": 145, "height": 27, "title": "Frequency 32 Hz", "transform": [{"filter": "datum.p == 'e1'"}], "mark": "line",
   "encoding": {"x": {"field": "h", "type": "quantitative", "scale": {"domain": [-0.2, 24.2], "nice": false}, "axis": {"values": [0,1,2,3,4,5,6,7,8,9,10,11,12,13,14,15,16,17,18,19,20,21,22,23], "title": null}},
                "y": {"field": "v", "type": "quantitative", "scale": {"domain": [-100, 0]}, "axis": {"values": [0, -50, -100], "title": "dB"}}}},
  {"width": 145, "height": 27, "title": "Frequency 132 Hz", "transform": [{"filter": "datum.p == 'e2'"}], "mark": "line",
   "encoding": {"x": {"field": "h", "type": "quantitative", "scale": {"domain": [-0.2, 24.2], "nice": false}, "axis": {"values": [0,1,2,3,4,5,6,7,8,9,10,11,12,13,14,15,16,17,18,19,20,21,22,23], "title": null}},
                "y": {"field": "v", "type": "quantitative", "scale": {"domain": [-100, 0]}, "axis": {"values": [0, -50, -100], "title": "dB"}}}},
  {"width": 145, "height": 27, "title": "Frequency 350 Hz", "transform": [{"filter": "datum.p == 'e3'"}], "mark": "line",
   "encoding": {"x": {"field": "h", "type": "quantitative", "scale": {"domain": [-0.2, 24.2], "nice": false}, "axis": {"values": [0,1,2,3,4,5,6,7,8,9,10,11,12,13,14,15,16,17,18,19,20,21,22,23], "title": "Hours"}},
                "y": {"field": "v", "type": "quantitative", "scale": {"domain": [-100, 0]}, "axis": {"values": [0, -50, -100], "title": "dB"}}}}
 ]}]},
 {"title": {"text": "(f)", "orient": "bottom", "font": "Liberation Sans, Arial, sans-serif", "fontSize": 9, "offset": 1}, "vconcat": [
 {"title": {"text": "Saturday May 18 2019", "fontSize": 13, "offset": 0}, "spacing": 1, "vconcat": [
  {"width": 145, "height": 27, "title": "Frequency 32 Hz", "transform": [{"filter": "datum.p == 'f1'"}], "mark": "line",
   "encoding": {"x": {"field": "h", "type": "quantitative", "scale": {"domain": [-0.2, 24.2], "nice": false}, "axis": {"values": [0,1,2,3,4,5,6,7,8,9,10,11,12,13,14,15,16,17,18,19,20,21,22,23], "title": null}},
                "y": {"field": "v", "type": "quantitative", "scale": {"domain": [-100, 0]}, "axis": {"values": [0, -50, -100], "title": "dB"}}}},
  {"width": 145, "height": 27, "title": "Frequency 132 Hz", "transform": [{"filter": "datum.p == 'f2'"}], "mark": "line",
   "encoding": {"x": {"field": "h", "type": "quantitative", "scale": {"domain": [-0.2, 24.2], "nice": false}, "axis": {"values": [0,1,2,3,4,5,6,7,8,9,10,11,12,13,14,15,16,17,18,19,20,21,22,23], "title": null}},
                "y": {"field": "v", "type": "quantitative", "scale": {"domain": [-100, 0]}, "axis": {"values": [0, -50, -100], "title": "dB"}}}},
  {"width": 145, "height": 27, "title": "Frequency 350 Hz", "transform": [{"filter": "datum.p == 'f3'"}], "mark": "line",
   "encoding": {"x": {"field": "h", "type": "quantitative", "scale": {"domain": [-0.2, 24.2], "nice": false}, "axis": {"values": [0,1,2,3,4,5,6,7,8,9,10,11,12,13,14,15,16,17,18,19,20,21,22,23], "title": "Hours"}},
                "y": {"field": "v", "type": "quantitative", "scale": {"domain": [-100, 0]}, "axis": {"values": [0, -50, -100], "title": "dB"}}}}
 ]}]}
]}
]
}
